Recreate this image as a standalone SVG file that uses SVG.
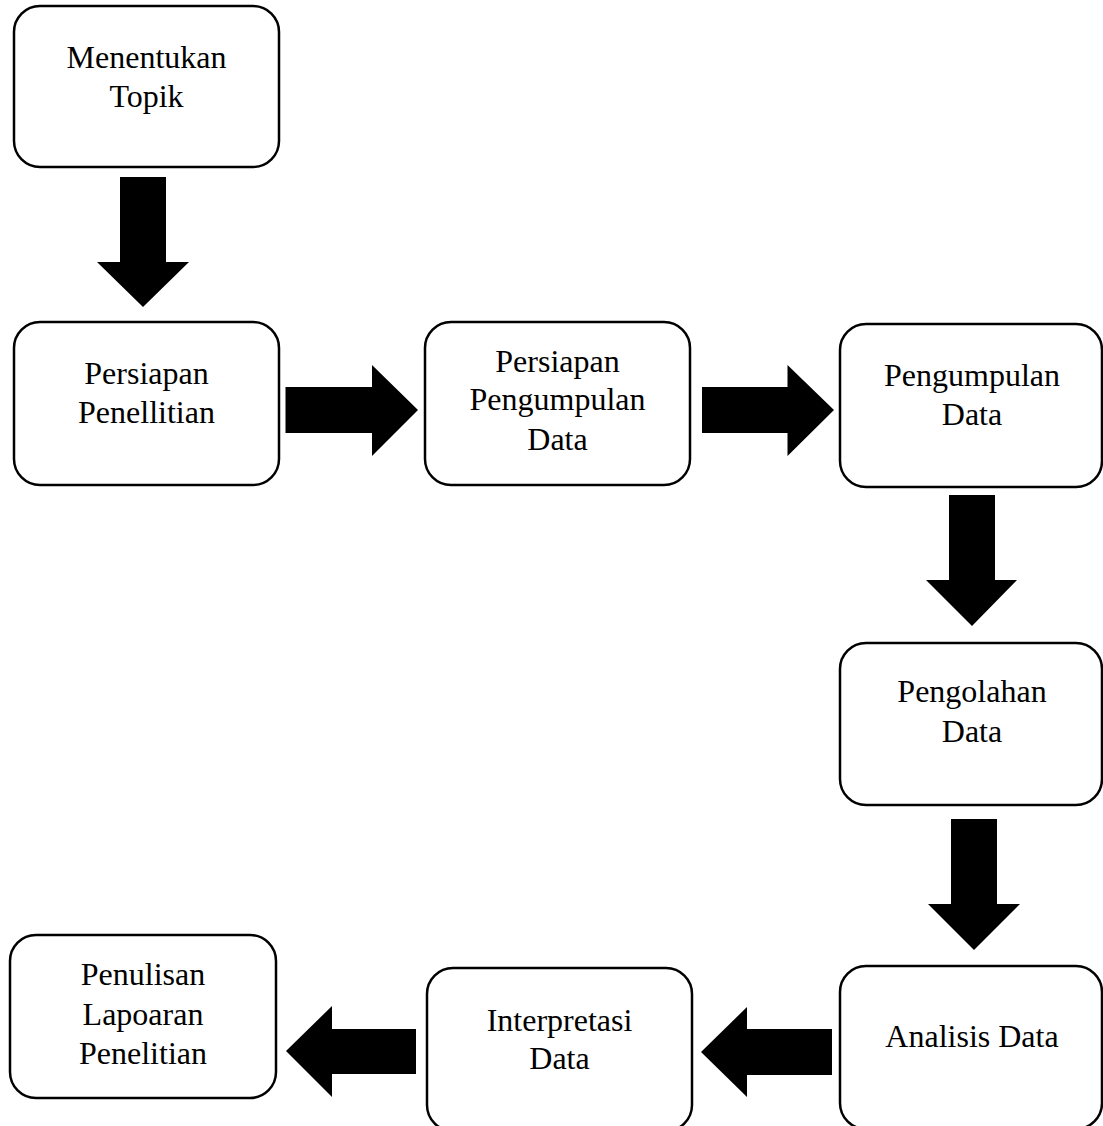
<svg xmlns="http://www.w3.org/2000/svg" width="1103" height="1126" viewBox="0 0 1103 1126">
<style>
.box{fill:#fff;stroke:#000;stroke-width:2.5}
.lbl{font-family:"Liberation Serif","Times New Roman",serif;font-size:32px;fill:#000;text-anchor:middle}
.arr{fill:#000;stroke:none}
</style>
<rect width="1103" height="1126" fill="#fff"/>
<g id="connectors">
<polygon class="arr" points="120,177 166,177 166,262 189,262 143,307 97,262 120,262"/>
<polygon class="arr" points="285.5,387 372,387 372,365 418,410 372,456 372,433 285.5,433"/>
<polygon class="arr" points="702,387 787.5,387 787.5,365 834,410 787.5,456 787.5,433 702,433"/>
<polygon class="arr" points="949,495 995,495 995,580 1017,580 972,626 926,580 949,580"/>
<polygon class="arr" points="951,819 997,819 997,904 1020,904 974,950 928,904 951,904"/>
<polygon class="arr" points="832,1029 747,1029 747,1007 701,1052 747,1097 747,1075 832,1075"/>
<polygon class="arr" points="416,1029 332,1029 332,1006 286,1051 332,1097 332,1074 416,1074"/>
</g>
<g id="n1">
<rect class="box" x="14" y="6" width="265" height="161" rx="26"/>
<text class="lbl" x="146.5" y="68">Menentukan</text>
<text class="lbl" x="146.5" y="107">Topik</text>
</g>
<g id="n2">
<rect class="box" x="14" y="322" width="265" height="163" rx="26"/>
<text class="lbl" x="146.5" y="384">Persiapan</text>
<text class="lbl" x="146.5" y="423">Penellitian</text>
</g>
<g id="n3">
<rect class="box" x="425" y="322" width="265" height="163" rx="26"/>
<text class="lbl" x="557.5" y="372">Persiapan</text>
<text class="lbl" x="557.5" y="410">Pengumpulan</text>
<text class="lbl" x="557.5" y="450">Data</text>
</g>
<g id="n4">
<rect class="box" x="840" y="324" width="262" height="163" rx="26"/>
<text class="lbl" x="972" y="386">Pengumpulan</text>
<text class="lbl" x="972" y="425">Data</text>
</g>
<g id="n5">
<rect class="box" x="840" y="643" width="262" height="162" rx="26"/>
<text class="lbl" x="972" y="702">Pengolahan</text>
<text class="lbl" x="972" y="742">Data</text>
</g>
<g id="n6">
<rect class="box" x="840" y="966" width="262" height="163" rx="26"/>
<text class="lbl" x="972" y="1047">Analisis Data</text>
</g>
<g id="n7">
<rect class="box" x="427" y="968" width="265" height="163" rx="26"/>
<text class="lbl" x="559.5" y="1031">Interpretasi</text>
<text class="lbl" x="559.5" y="1069">Data</text>
</g>
<g id="n8">
<rect class="box" x="10" y="935" width="266" height="163" rx="26"/>
<text class="lbl" x="143" y="985">Penulisan</text>
<text class="lbl" x="143" y="1025">Lapoaran</text>
<text class="lbl" x="143" y="1064">Penelitian</text>
</g>
</svg>
